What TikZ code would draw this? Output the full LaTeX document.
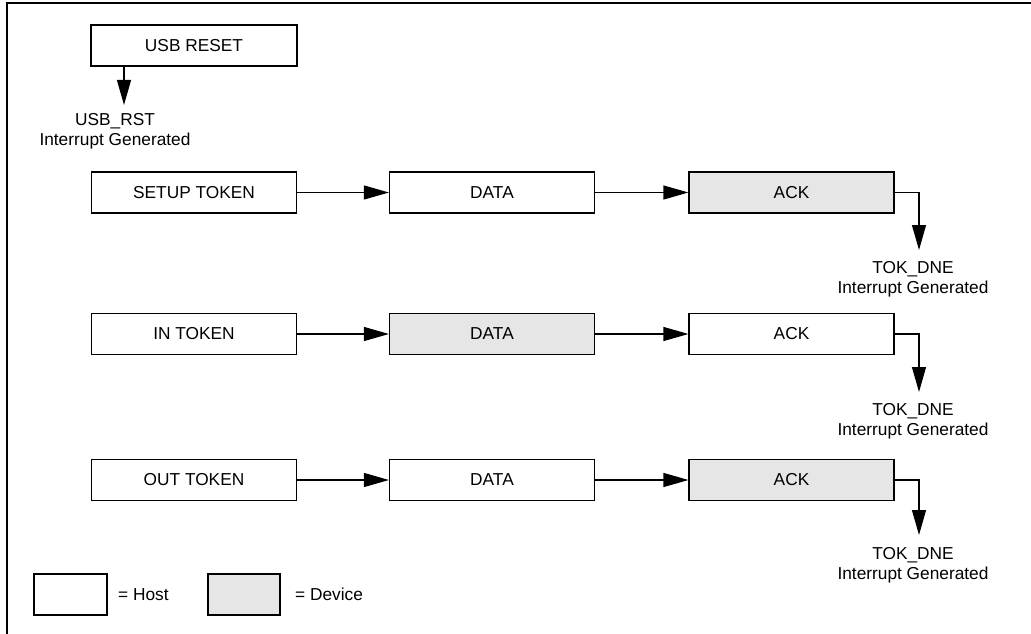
\documentclass[tikz,border=0pt]{standalone}
\usepackage{fontspec}
\setmainfont{Liberation Sans}
\usetikzlibrary{arrows.meta}
\definecolor{devgrey}{RGB}{230,230,230}
\begin{document}
\begin{tikzpicture}[x=1pt,y=-1pt,
  every node/.style={font=\fontsize{17.3}{20}\selectfont},
  hostbox/.style={draw,line width=1.2pt,rectangle,minimum width=205pt,minimum height=41pt,inner sep=0pt,fill=white},
  devbox/.style={hostbox,fill=devgrey},
  flow/.style={line width=1.2pt,-{Triangle[length=25pt,width=14pt]}},
  lbl/.style={align=center,inner sep=0pt,anchor=north}]
\useasboundingbox (0,0) rectangle (1031,634);
% frame
\draw[line width=1.4pt] (7,634) -- (7,3) -- (1031,3);
% USB reset
\node[hostbox,minimum width=206pt] (rst) at (194,45.5) {USB RESET};
\node[lbl] (rstl) at (115,113) {USB\_RST\\Interrupt Generated};
\coordinate (rstc) at (124,105);
\draw[flow] (rst.south -| rstc) -- (rstc);
% row 1
\node[hostbox] (s1) at (194,192.5) {SETUP TOKEN};
\node[hostbox] (d1) at (492,192.5) {DATA};
\node[devbox]  (a1) at (791.5,192.5) {ACK};
\draw[flow] (s1) -- (d1);
\draw[flow] (d1) -- (a1);
\coordinate (c1) at (919,250);
\draw[flow] (a1.east) -| (c1);
\node[lbl] (t1) at (913,261) {TOK\_DNE\\Interrupt Generated};
% row 2
\node[hostbox] (s2) at (194,334) {IN TOKEN};
\node[devbox]  (d2) at (492,334) {DATA};
\node[hostbox] (a2) at (791.5,334) {ACK};
\draw[flow] (s2) -- (d2);
\draw[flow] (d2) -- (a2);
\coordinate (c2) at (919,392);
\draw[flow] (a2.east) -| (c2);
\node[lbl] (t2) at (913,403) {TOK\_DNE\\Interrupt Generated};
% row 3
\node[hostbox] (s3) at (194,480) {OUT TOKEN};
\node[hostbox] (d3) at (492,480) {DATA};
\node[devbox]  (a3) at (791.5,480) {ACK};
\draw[flow] (s3) -- (d3);
\draw[flow] (d3) -- (a3);
\coordinate (c3) at (919,535);
\draw[flow] (a3.east) -| (c3);
\node[lbl] (t3) at (913,547) {TOK\_DNE\\Interrupt Generated};
% legend
\node[hostbox,minimum width=73pt,minimum height=41pt] (lh) at (70.5,594.5) {};
\node[anchor=west,inner sep=0pt] (lht) at (118,594.5) {= Host};
\node[devbox,minimum width=72pt,minimum height=41pt] (ld) at (244,594.5) {};
\node[anchor=west,inner sep=0pt] (ldt) at (295,594.5) {= Device};
\end{tikzpicture}
\end{document}
